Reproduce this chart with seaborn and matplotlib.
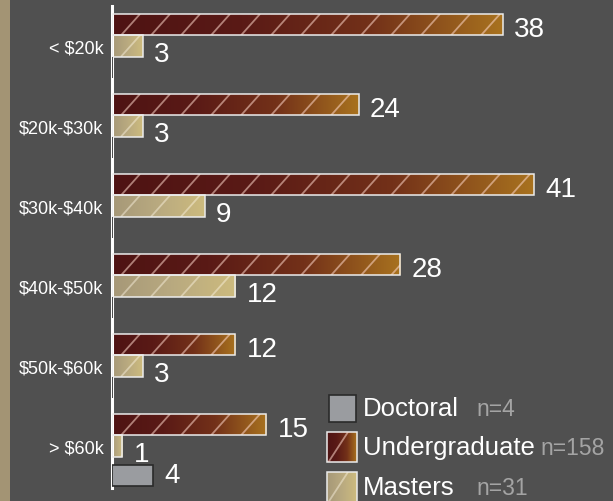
import numpy as np
import pandas as pd
import matplotlib
matplotlib.use("Agg")
import matplotlib.pyplot as plt
import seaborn as sns
from matplotlib.colors import LinearSegmentedColormap
from matplotlib.collections import LineCollection
from matplotlib.patches import Rectangle

# ---------------- data ----------------
income = ['< $20k', '$20k-$30k', '$30k-$40k', '$40k-$50k', '$50k-$60k', '> $60k']
undergrad = [38, 24, 41, 28, 12, 15]
masters = [3, 3, 9, 12, 3, 1]
doctoral = [0, 0, 0, 0, 0, 4]
degrees = ['Undergraduate', 'Masters', 'Doctoral']

# ---------------- style ----------------
BG = '#505050'
STRIPE = '#a39474'
ug_cmap = LinearSegmentedColormap.from_list('ug', ['#4e1313', '#5a1a16', '#733119', '#a8721f'])
ms_cmap = LinearSegmentedColormap.from_list('ms', ['#a69878', '#b9aa80', '#cdbb7e'])
doc_color = '#9a9ca0'
doc_edge = '#2a2a2a'
grad = np.linspace(0, 1, 256).reshape(1, -1)

df = pd.DataFrame({
    'income': income * 3,
    'count': undergrad + masters + doctoral,
    'degree': np.repeat(degrees, len(income)),
})

sns.set_theme(style='dark')
plt.rcParams['font.family'] = ['Liberation Sans', 'DejaVu Sans']
plt.rcParams['text.parse_math'] = False

W, H = 613, 502
fig = plt.figure(figsize=(W / 100, H / 100), dpi=100, facecolor=BG)
fig.patches.append(Rectangle((0, 0), 10 / W, 1, transform=fig.transFigure,
                             facecolor=STRIPE, edgecolor='none', zorder=0))

ax_left, ax_top, ax_bot = 112, 7, 489
ax = fig.add_axes([ax_left / W, (H - ax_bot) / H, (W - ax_left) / W, (ax_bot - ax_top) / H])
ax.set_facecolor(BG)

sns.barplot(data=df, x='count', y='income', hue='degree', hue_order=degrees,
            order=income, orient='h', palette=['#6b2b18', '#c0b080', doc_color],
            saturation=1, width=0.8, dodge=True, errorbar=None, legend=False, ax=ax)

XMAX = 48.7
ax.set_xlim(0, XMAX)
ax.set_ylim(5.525, -0.5)
px_per_x = (W - ax_left) / XMAX
px_per_y = (ax_bot - ax_top) / 6.025

hatch_sp = 30 / px_per_x  # ~30 px between hatch lines
slant = 19 / px_per_x


def hatch_segments(x0, w, ytop, ybot, sp, sl, phase=0.3):
    segs = []
    k = -2
    while True:
        xs = x0 + (k + phase) * sp
        if xs > x0 + w:
            break
        segs.append([(xs, ybot), (xs + sl, ytop)])
        k += 1
    return segs


for cont, cmap, hcol in zip(ax.containers[:2], [ug_cmap, ms_cmap],
                            [(1, 0.85, 0.8, 0.55), (1, 0.97, 0.9, 0.45)]):
    for bar in cont:
        x0, y0 = bar.get_x(), bar.get_y()
        w, h = bar.get_width(), bar.get_height()
        bar.set_facecolor('none')
        bar.set_edgecolor('#ececec')
        bar.set_linewidth(1.1)
        bar.set_zorder(4)
        im = ax.imshow(grad, cmap=cmap, extent=(x0, x0 + w, y0 + h, y0),
                       aspect='auto', zorder=2, interpolation='bicubic')
        im.set_clip_path(bar)
        lc = LineCollection(hatch_segments(x0, w, y0, y0 + h, hatch_sp, slant),
                            colors=[hcol], linewidths=1.3, zorder=3)
        ax.add_collection(lc)
        lc.set_clip_path(bar)

# doctoral bars: solid grey, the drawn one sits a little lower in the source
for bar, v in zip(ax.containers[2], doctoral):
    bar.set_facecolor(doc_color)
    bar.set_edgecolor(doc_edge)
    bar.set_linewidth(1.2)
    bar.set_zorder(4)
    if v > 0:
        bar.set_y(bar.get_y() + 8 / px_per_y)

ax.set_xlim(0, XMAX)
ax.set_ylim(5.525, -0.5)

# value labels
for cont, vals, dy in zip(ax.containers, [undergrad, masters, doctoral], [3, 6, 0]):
    for bar, v in zip(cont, vals):
        if v == 0:
            continue
        ax.annotate(str(v), (bar.get_width(), bar.get_y() + bar.get_height() / 2),
                    xytext=(8, -dy), textcoords='offset points', ha='left', va='center',
                    color='white', fontsize=20, zorder=5)

ax.set_xlabel('')
ax.set_ylabel('')
ax.set_xticks([])
ax.tick_params(axis='y', length=0, pad=6, labelsize=13, labelcolor='white')
ax.grid(False)
for s in ['top', 'right', 'bottom']:
    ax.spines[s].set_visible(False)
ax.spines['left'].set_color('white')
ax.spines['left'].set_linewidth(2.2)
ax.spines['left'].set_zorder(3.5)

# ---------------- legend ----------------
legend_rows = [('Doctoral', sum(doctoral), 409),
               ('Undergraduate', sum(undergrad), 448),
               ('Masters', sum(masters), 488)]
fig.canvas.draw()
renderer = fig.canvas.get_renderer()
for name, n, yc in legend_rows:
    size = 27 if name == 'Doctoral' else 30
    lx = 329 if name == 'Doctoral' else 327
    lax = fig.add_axes([lx / W, (H - yc - size / 2) / H, size / W, size / H])
    lax.set_xlim(0, 1)
    lax.set_ylim(0, 1)
    lax.axis('off')
    if name == 'Doctoral':
        lax.add_patch(Rectangle((0, 0), 1, 1, facecolor=doc_color, edgecolor=doc_edge,
                                linewidth=1.2, clip_on=False))
    else:
        cmap = ug_cmap if name == 'Undergraduate' else ms_cmap
        lax.imshow(grad, cmap=cmap, extent=(0, 1, 0, 1), aspect='auto', interpolation='bicubic')
        hcol = (1, 0.85, 0.8, 0.55) if name == 'Undergraduate' else (1, 0.97, 0.9, 0.45)
        lc = LineCollection(hatch_segments(0, 1, 1, 0, 1.0, 0.65, phase=0.05),
                            colors=[hcol], linewidths=1.3)
        lax.add_collection(lc)
        lax.add_patch(Rectangle((0, 0), 1, 1, facecolor='none', edgecolor='#ececec',
                                linewidth=1.1, clip_on=False))
    t = fig.text(363 / W, 1 - yc / H, name, ha='left', va='center', color='white', fontsize=18.5)
    bb = t.get_window_extent(renderer)
    nx = max(476, bb.x1 + 6)
    fig.text(nx / W, 1 - (yc + 1) / H, f'n={n}', ha='left', va='center',
             color='#a4a4a4', fontsize=16.5)

fig.savefig('out.png', dpi=100, facecolor=BG)
